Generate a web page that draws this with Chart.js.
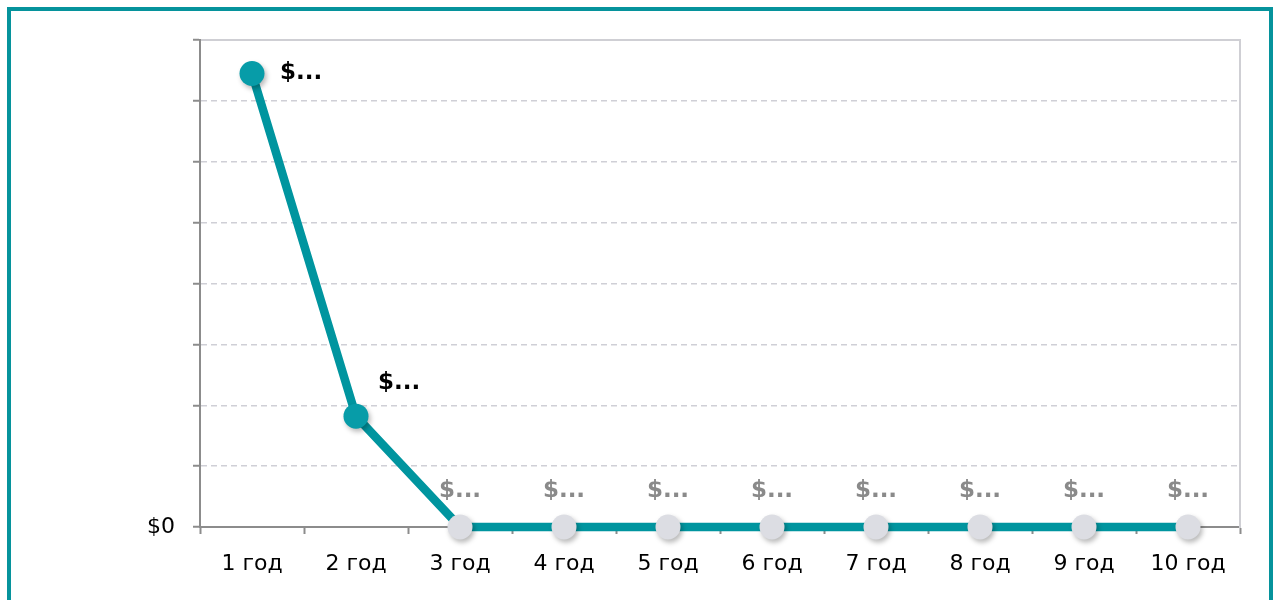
<!DOCTYPE html>
<html>
<head>
<meta charset="utf-8">
<script src="https://cdn.jsdelivr.net/npm/chart.js@4.4.0/dist/chart.umd.min.js"></script>
<style>
  html, body { margin: 0; padding: 0; background: #fff; overflow: hidden; }
  #frame {
    position: absolute; left: 7px; top: 7px; width: 1258px; height: 640px;
    border: 4px solid #06939c; box-sizing: content-box;
  }
  #wrap { position: absolute; left: 0; top: 0; width: 1276px; height: 600px; }
</style>
</head>
<body>
<div id="frame"></div>
<div id="wrap"><canvas id="chart" width="1276" height="600"></canvas></div>
<script>
// Remaining balance per year
const categories = ['1 год', '2 год', '3 год', '4 год', '5 год', '6 год', '7 год', '8 год', '9 год', '10 год'];
const balance = [7450, 1820, 0, 0, 0, 0, 0, 0, 0, 0];
const pointLabels = ['$...', '$...', '$...', '$...', '$...', '$...', '$...', '$...', '$...', '$...'];
const yMin = 0;
const yMax = 8000;
const yStep = 1000;

const TEAL_LINE = '#00959f';
const TEAL_POINT = '#079ca8';
const GREY_POINT = '#dcdde3';
const AXIS = '#8c8c8c';
const GRID = '#cfcfd6';
const FONT = '"DejaVu Sans", Verdana, sans-serif';

// Drop shadow under the markers only
const markerShadow = {
  id: 'markerShadow',
  beforeDatasetDraw(chart, args) {
    if (args.index !== 0) return;
    const ctx = chart.ctx;
    ctx.save();
    ctx.shadowColor = 'rgba(0,0,0,0.28)';
    ctx.shadowBlur = 5;
    ctx.shadowOffsetX = 2;
    ctx.shadowOffsetY = 3;
  },
  afterDatasetDraw(chart, args) {
    if (args.index !== 0) return;
    chart.ctx.restore();
  }
};

// Value labels next to each marker
const valueLabels = {
  id: 'valueLabels',
  afterDatasetsDraw(chart) {
    const ctx = chart.ctx;
    const meta = chart.getDatasetMeta(0);
    const area = chart.chartArea;
    ctx.save();
    ctx.font = 'bold 23px ' + FONT;
    ctx.textBaseline = 'middle';
    meta.data.forEach((pt, i) => {
      const v = balance[i];
      let x, y;
      if (v > 0) {
        ctx.fillStyle = '#000';
        ctx.textAlign = 'left';
        x = pt.x + 22;
        y = pt.y - 33;
        if (y < area.top + 20) { x = pt.x + 28; y = pt.y; }
      } else {
        ctx.fillStyle = '#8a8a8a';
        ctx.textAlign = 'center';
        x = pt.x;
        y = pt.y - 36;
      }
      ctx.fillText(pointLabels[i], x, y);
    });
    ctx.restore();
  }
};

new Chart(document.getElementById('chart'), {
  type: 'line',
  data: {
    labels: categories,
    datasets: [
      {
        data: balance,
        showLine: false,
        clip: false,
        pointRadius: 12.5,
        pointHoverRadius: 12.5,
        pointBorderWidth: 0,
        pointBackgroundColor: balance.map(v => v > 0 ? TEAL_POINT : GREY_POINT),
        pointBorderColor: 'rgba(0,0,0,0)'
      },
      {
        data: balance,
        clip: false,
        borderColor: TEAL_LINE,
        borderWidth: 8.5,
        borderCapStyle: 'round',
        pointRadius: 0,
        tension: 0,
        fill: false
      }
    ]
  },
  options: {
    responsive: false,
    animation: false,
    events: [],
    layout: { padding: { left: 0, right: 36, top: 40, bottom: 0 } },
    plugins: { legend: { display: false }, tooltip: { enabled: false } },
    scales: {
      x: {
        type: 'category',
        position: 'bottom',
        offset: true,
        grid: {
          offset: true,
          drawOnChartArea: false,
          drawTicks: true,
          tickLength: 7,
          tickColor: AXIS,
          tickWidth: 2
        },
        border: { display: true, color: AXIS, width: 2 },
        ticks: {
          color: '#000',
          font: { family: FONT, size: 22 },
          padding: 17,
          maxRotation: 0,
          autoSkip: false
        },
        afterFit(scale) { scale.height = 73; }
      },
      xTop: {
        type: 'category',
        position: 'top',
        labels: categories,
        grid: { display: false },
        border: { display: true, color: '#cfcfd4', width: 2 },
        ticks: { display: false },
        afterFit(scale) { scale.height = 0; }
      },
      y: {
        min: yMin,
        max: yMax,
        position: 'left',
        grid: {
          color: GRID,
          lineWidth: 1.5,
          drawTicks: true,
          tickLength: 7,
          tickColor: AXIS,
          tickWidth: 2
        },
        border: { display: true, color: AXIS, width: 2, dash: [6, 4] },
        ticks: {
          stepSize: yStep,
          color: '#000',
          font: { family: FONT, size: 22 },
          padding: 18,
          callback: v => v === 0 ? '$0' : ''
        },
        afterFit(scale) { scale.width = 200; }
      },
      yRight: {
        position: 'right',
        min: yMin,
        max: yMax,
        grid: { display: false },
        border: { display: true, color: '#cfcfd4', width: 2 },
        ticks: { display: false },
        afterFit(scale) { scale.width = 0; }
      }
    }
  },
  plugins: [markerShadow, valueLabels]
});
</script>
</body>
</html>
